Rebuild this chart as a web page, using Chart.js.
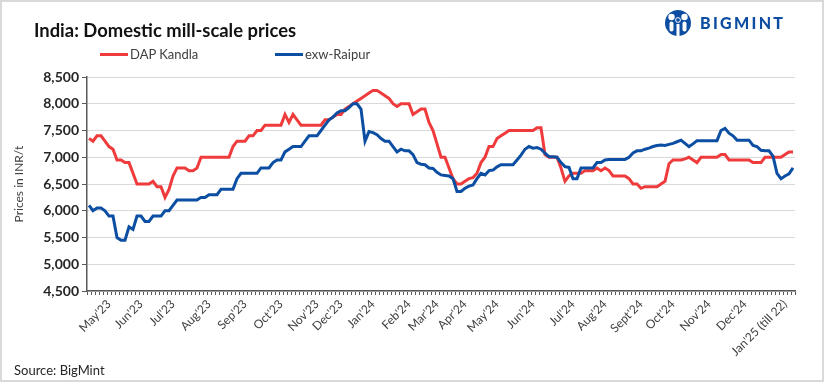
<!DOCTYPE html>
<html>
<head>
<meta charset="utf-8">
<script src="https://cdn.jsdelivr.net/npm/chart.js@4.4.1/dist/chart.umd.min.js"></script>
<style>
  html, body { margin: 0; padding: 0; background: #fff; }
  #wrap { position: relative; width: 824px; height: 382px; overflow: hidden; font-family: Lato, "Open Sans", sans-serif; }
  #frame { position: absolute; left: 0; top: 0; width: 824px; height: 382px; box-sizing: border-box; border: 2px solid #d9d9d9; pointer-events: none; }
  #title { position: absolute; left: 34px; top: 19px; font-size: 18.4px; font-weight: bold; color: #111; line-height: 22px; white-space: nowrap; }
  #legend { position: absolute; left: 100px; top: 46px; height: 16px; }
  .item { position: absolute; top: 0; white-space: nowrap; font-size: 13px; color: #404040; line-height: 16px; }
  .swatch { display: inline-block; width: 28px; height: 3px; vertical-align: middle; margin-right: 2px; position: relative; top: -1px; }
  #logo { position: absolute; left: 663px; top: 8px; height: 30px; }
  #logo span { position: absolute; left: 37px; top: 5px; font-size: 16px; font-weight: 900; letter-spacing: 2.3px; color: #0d4da1; white-space: nowrap; }
  #source { position: absolute; left: 14px; top: 362px; font-size: 13px; color: #262626; white-space: nowrap; }
  canvas { position: absolute; left: 0; top: 0; }
</style>
</head>
<body>
<div id="wrap">
  <canvas id="millScaleChart" width="824" height="382"></canvas>
  <div id="title">India: Domestic mill-scale prices</div>
  <div id="legend"></div>
  <div id="logo">
    <svg width="30" height="30" viewBox="0 0 30 30">
      <circle cx="15" cy="15" r="13" fill="#0d4da1"/>
      <circle cx="8.5" cy="9" r="3.2" fill="#fff"/>
      <circle cx="21.5" cy="9" r="3.2" fill="#fff"/>
      <rect x="6.5" y="13.5" width="4" height="10" rx="2" fill="#fff"/>
      <rect x="19.5" y="13.5" width="4" height="10" rx="2" fill="#fff"/>
      <circle cx="15" cy="12" r="2.4" fill="#0d4da1" stroke="#fff" stroke-width="1"/>
      <rect x="13.5" y="16" width="3" height="12" fill="#fff"/>
    </svg>
    <span>BIGMINT</span>
  </div>
  <div id="source">Source: BigMint</div>
  <div id="frame"></div>
</div>
<script>
// month tick labels and the observation index where each one sits
const monthLabels = ["May'23", "Jun'23", "Jul'23", "Aug'23", "Sep'23", "Oct'23", "Nov'23", "Dec'23",
  "Jan'24", "Feb'24", "Mar'24", "Apr'24", "May'24", "Jun'24", "Jul'24", "Aug'24", "Sept'24",
  "Oct'24", "Nov'24", "Dec'24", "Jan'25 (till 22)"];
const monthIndex = [5, 13, 21, 30, 39, 48, 57, 63, 71, 80, 87, 94, 102, 111, 121, 129, 138, 146, 155, 164, 174];

// INR/t
const dapKandla = [
  7350, 7300, 7400, 7400, 7300, 7200, 7150, 6950, 6950, 6900,
  6900, 6700, 6500, 6500, 6500, 6500, 6550, 6450, 6450, 6250,
  6400, 6650, 6800, 6800, 6800, 6750, 6750, 6800, 7000, 7000,
  7000, 7000, 7000, 7000, 7000, 7000, 7200, 7300, 7300, 7300,
  7400, 7400, 7500, 7500, 7600, 7600, 7600, 7600, 7600, 7800,
  7650, 7800, 7700, 7600, 7600, 7600, 7600, 7600, 7600, 7700,
  7700, 7750, 7800, 7800, 7900, 7950, 8000, 8050, 8100, 8150,
  8200, 8250, 8250, 8200, 8150, 8100, 8000, 7950, 8000, 8000,
  8000, 7800, 7850, 7900, 7900, 7650, 7500, 7250, 7000, 7000,
  6800, 6600, 6500, 6500, 6550, 6600, 6620, 6700, 6900, 7000,
  7200, 7200, 7350, 7400, 7450, 7500, 7500, 7500, 7500, 7500,
  7500, 7500, 7550, 7550, 7050, 7000, 7000, 7000, 6800, 6550,
  6650, 6700, 6700, 6700, 6750, 6750, 6750, 6800, 6750, 6800,
  6750, 6650, 6650, 6650, 6650, 6600, 6500, 6500, 6420, 6450,
  6450, 6450, 6450, 6500, 6550, 6880, 6950, 6950, 6950, 6970,
  7000, 6950, 6900, 7000, 7000, 7000, 7000, 7000, 7050, 7050,
  6950, 6950, 6950, 6950, 6950, 6950, 6900, 6900, 6900, 7000,
  7000, 7000, 7000, 7000, 7050, 7100, 7100
];
const exwRaipur = [
  6100, 6000, 6050, 6050, 6000, 5900, 5900, 5500, 5450, 5450,
  5700, 5650, 5900, 5900, 5800, 5800, 5900, 5900, 5900, 6000,
  6000, 6100, 6200, 6200, 6200, 6200, 6200, 6200, 6250, 6250,
  6300, 6300, 6300, 6400, 6400, 6400, 6400, 6600, 6700, 6700,
  6700, 6700, 6700, 6800, 6800, 6800, 6900, 6950, 6950, 7100,
  7150, 7200, 7200, 7200, 7300, 7400, 7400, 7400, 7500, 7600,
  7700, 7750, 7830, 7870, 7870, 7930, 8000, 8000, 7900, 7300,
  7480, 7460, 7420, 7350, 7300, 7300, 7200, 7100, 7150, 7120,
  7120, 7050, 6900, 6870, 6860, 6800, 6790, 6720, 6670, 6660,
  6650, 6600, 6360, 6360, 6420, 6460, 6480, 6600, 6700, 6670,
  6750, 6760, 6820, 6860, 6860, 6860, 6860, 6950, 7040, 7150,
  7200, 7170, 7180, 7150, 7075, 7010, 7010, 7000, 6900, 6825,
  6810, 6600, 6600, 6800, 6800, 6800, 6800, 6900, 6900, 6950,
  6960, 6960, 6960, 6960, 6960, 7000, 7080, 7120, 7120, 7150,
  7170, 7200, 7220, 7230, 7220, 7240, 7260, 7290, 7320, 7260,
  7200, 7250, 7310, 7310, 7310, 7310, 7310, 7310, 7500, 7540,
  7450, 7400, 7320, 7320, 7320, 7320, 7220, 7200, 7130, 7120,
  7120, 7020, 6700, 6600, 6650, 6690, 6800
];

const categories = dapKandla.map(() => '');
monthIndex.forEach((idx, i) => { categories[idx] = monthLabels[i]; });

const axisColor = '#595959';
const tickFont = { family: 'Lato, "Open Sans", sans-serif', size: 12 };

const ctx = document.getElementById('millScaleChart').getContext('2d');
const millScaleChart = new Chart(ctx, {
    type: 'line',
    data: {
        labels: categories,
        datasets: [{
            label: 'DAP Kandla',
            data: dapKandla,
            borderColor: '#ef3b3b',
            backgroundColor: '#ef3b3b',
            borderWidth: 3,
            pointRadius: 0,
            tension: 0,
            order: 1
        }, {
            label: 'exw-Raipur',
            data: exwRaipur,
            borderColor: '#0b4ea2',
            backgroundColor: '#0b4ea2',
            borderWidth: 3,
            pointRadius: 0,
            tension: 0,
            order: 0
        }]
    },
    options: {
        responsive: false,
        animation: false,
        layout: {
            padding: { left: 8, right: 29, top: 77, bottom: 21 }
        },
        plugins: {
            legend: { display: false },
            tooltip: { enabled: false }
        },
        scales: {
            x: {
                offset: true,
                grid: {
                    offset: true,
                    drawOnChartArea: false,
                    tickLength: 4,
                    color: axisColor
                },
                border: { color: axisColor, width: 1.5 },
                ticks: {
                    autoSkip: false,
                    minRotation: 45,
                    maxRotation: 45,
                    padding: 2,
                    color: '#404040',
                    font: tickFont
                },
                afterFit: function (scale) {
                    scale.height = 70;
                }
            },
            y: {
                min: 4500,
                max: 8500,
                grid: {
                    color: '#d9d9d9',
                    tickColor: axisColor,
                    tickLength: 5
                },
                border: { color: axisColor, width: 1.5 },
                ticks: {
                    stepSize: 500,
                    padding: 3,
                    color: '#262626',
                    font: { family: 'Lato, "Open Sans", sans-serif', size: 14, weight: 'bold' },
                    callback: function (value) {
                        return value.toLocaleString('en-US');
                    }
                },
                title: {
                    display: true,
                    text: 'Prices in INR/t',
                    color: '#404040',
                    font: { family: 'Lato, "Open Sans", sans-serif', size: 12 }
                },
                afterFit: function (scale) {
                    scale.width = 79;
                }
            }
        }
    }
});

// legend built from the chart's datasets
const legendBox = document.getElementById('legend');
const legendLeft = [0, 175];
millScaleChart.data.datasets.forEach((ds, i) => {
    const item = document.createElement('div');
    item.className = 'item';
    item.style.left = legendLeft[i] + 'px';
    item.innerHTML = '<span class="swatch" style="background:' + ds.borderColor + '"></span>' + ds.label;
    legendBox.appendChild(item);
});
</script>
</body>
</html>
